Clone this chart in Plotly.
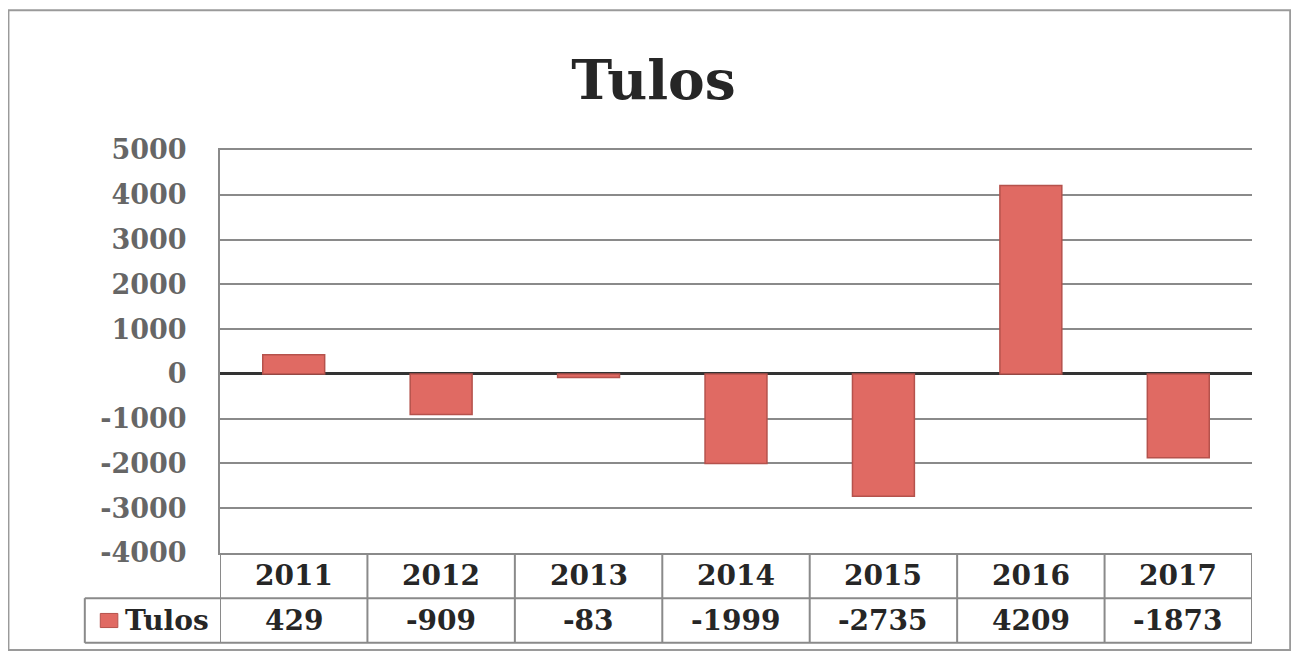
import plotly.graph_objects as go

YEARS = ["2011", "2012", "2013", "2014", "2015", "2016", "2017"]
TULOS = [429, -909, -83, -1999, -2735, 4209, -1873]
Y_TICKS = [5000, 4000, 3000, 2000, 1000, 0, -1000, -2000, -3000, -4000]

SERIF = "DejaVu Serif"
BAR_FILL = "#e06a63"
BAR_EDGE = "#b5524c"
GRID = "#8a8a8a"
TEXT_DARK = "#262626"

# table rows under the plot, in paper units (plot area = 0..1)
HEAD_MID, ROW_SPLIT, DATA_MID, TABLE_BOTTOM = -0.057, -0.112, -0.168, -0.223


def bold(s):
    return "<b>" + s + "</b>"


fig = go.Figure(
    go.Bar(
        x=YEARS, y=TULOS, name="Tulos",
        marker=dict(color=BAR_FILL, line=dict(color=BAR_EDGE, width=1.5)),
    )
)

shapes = []
annotations = []

# vertical table lines at category borders
for i in range(len(YEARS) + 1):
    shapes.append(dict(type="line", xref="x", yref="paper", x0=i - 0.5, x1=i - 0.5,
                       y0=0, y1=TABLE_BOTTOM, line=dict(color=GRID, width=2)))
for yy in (ROW_SPLIT, TABLE_BOTTOM):
    shapes.append(dict(type="line", xref="paper", yref="paper", x0=-0.131, x1=1,
                       y0=yy, y1=yy, line=dict(color=GRID, width=2)))
# left edge of legend cell
shapes.append(dict(type="line", xref="paper", yref="paper", x0=-0.131, x1=-0.131,
                   y0=ROW_SPLIT, y1=TABLE_BOTTOM, line=dict(color=GRID, width=2)))
# legend key
shapes.append(dict(type="rect", xref="paper", yref="paper", x0=-0.116, x1=-0.099,
                   y0=-0.150, y1=-0.185, fillcolor=BAR_FILL,
                   line=dict(color=BAR_EDGE, width=1)))
# outer chart frame
shapes.append(dict(type="rect", xref="paper", yref="paper", x0=-0.205, x1=1.037,
                   y0=-0.241, y1=1.347, line=dict(color="#9a9a9a", width=2)))

cell_font = dict(family=SERIF, size=28, color=TEXT_DARK)
for i, (year, val) in enumerate(zip(YEARS, TULOS)):
    annotations.append(dict(x=i, y=HEAD_MID, xref="x", yref="paper", text=bold(year),
                            yanchor="middle", showarrow=False, font=cell_font))
    annotations.append(dict(x=i, y=DATA_MID, xref="x", yref="paper", text=bold(str(val)),
                            yanchor="middle", showarrow=False, font=cell_font))
annotations.append(dict(x=-0.094, y=DATA_MID, xref="paper", yref="paper", text=bold("Tulos"),
                        xanchor="left", yanchor="middle", showarrow=False, font=cell_font))

fig.update_layout(
    # page body adds an 8px margin, so the figure is drawn 8px smaller
    width=1291, height=648,
    margin=dict(l=212, r=47, t=142, b=103),
    paper_bgcolor="white", plot_bgcolor="white",
    showlegend=False, bargap=0.58,
    title=dict(text=bold("Tulos"), x=0.5, xanchor="center", y=0.89, yanchor="middle",
               font=dict(family=SERIF, size=55, color=TEXT_DARK)),
    xaxis=dict(type="category", range=[-0.5, len(YEARS) - 0.5], showticklabels=False,
               showgrid=False, zeroline=False, ticks="",
               showline=True, mirror=True, linecolor=GRID, linewidth=2),
    yaxis=dict(range=[-4000, 5000], tickvals=Y_TICKS, ticktext=[bold(str(t)) for t in Y_TICKS],
               showgrid=True, gridcolor=GRID, gridwidth=2,
               zeroline=True, zerolinecolor="#333333", zerolinewidth=2.5,
               showline=True, linecolor=GRID, linewidth=2, ticklabelstandoff=26,
               tickfont=dict(family=SERIF, size=27, color="#666666"), ticks=""),
    shapes=shapes, annotations=annotations,
)

fig.write_html("out.html")
